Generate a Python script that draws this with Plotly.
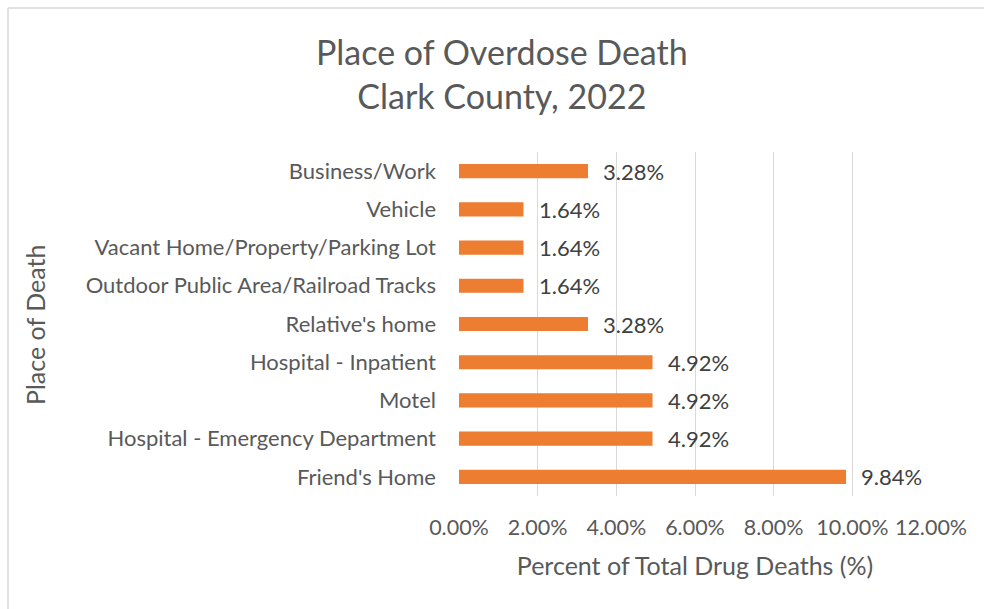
import plotly.graph_objects as go

# Places of overdose death, listed bottom-to-top as drawn
places = [
    "Friend's Home",
    "Hospital - Emergency Department",
    "Motel",
    "Hospital - Inpatient",
    "Relative's home",
    "Outdoor Public Area/Railroad Tracks",
    "Vacant Home/Property/Parking Lot",
    "Vehicle",
    "Business/Work",
]
percent = [9.84, 4.92, 4.92, 4.92, 3.28, 1.64, 1.64, 1.64, 3.28]
tick_vals = [0, 2, 4, 6, 8, 10, 12]
tick_text = ["0.00%", "2.00%", "4.00%", "6.00%", "8.00%", "10.00%", "12.00%"]

FONT = "Lato"
GREY = "#595959"

W, H = 984, 609
L, R, T, B = 459, 53, 152, 113
pw, ph = W - L - R, H - T - B


def px_x(x):
    return (x - L) / pw


def px_y(y):
    return 1 - (y - T) / ph


fig = go.Figure(
    go.Bar(
        x=percent,
        y=places,
        orientation="h",
        marker=dict(color="#ED7D31", line=dict(width=0)),
        width=0.37,
        cliponaxis=False,
    )
)

# value labels placed just past the end of each bar
value_labels = [
    dict(
        x=v,
        y=p,
        xref="x",
        yref="y",
        text=f"{v:.2f}%",
        xanchor="left",
        yanchor="middle",
        xshift=13,
        yshift=0,
        showarrow=False,
        font=dict(family=FONT, size=22, color="#404040"),
    )
    for p, v in zip(places, percent)
]

fig.update_layout(
    width=W,
    height=H,
    margin=dict(l=L, r=R, t=T, b=B),
    paper_bgcolor="white",
    plot_bgcolor="white",
    showlegend=False,
    font=dict(family=FONT, color=GREY),
    xaxis=dict(
        range=[0, 12],
        tickvals=tick_vals,
        ticktext=tick_text,
        showgrid=True,
        gridcolor="#D9D9D9",
        gridwidth=1,
        zeroline=False,
        showline=False,
        ticks="",
        tickfont=dict(family=FONT, size=21.5, color=GREY),
        ticklabelstandoff=16,
        title=dict(
            text="Percent of Total Drug Deaths (%)",
            font=dict(family=FONT, size=25, color=GREY),
            standoff=18,
        ),
    ),
    yaxis=dict(
        categoryorder="array",
        categoryarray=places,
        showgrid=False,
        showline=False,
        ticks="",
        tickfont=dict(family=FONT, size=22, color=GREY),
        ticklabelstandoff=22,
    ),
    annotations=value_labels + [
        dict(
            text="Place of Overdose Death<br>Clark County, 2022",
            x=px_x(502),
            y=px_y(73),
            xref="paper",
            yref="paper",
            xanchor="center",
            yanchor="middle",
            showarrow=False,
            align="center",
            font=dict(family=FONT, size=34, color=GREY),
        ),
        dict(
            text="Place of Death",
            x=px_x(35),
            y=px_y(325),
            xref="paper",
            yref="paper",
            xanchor="center",
            yanchor="middle",
            textangle=-90,
            showarrow=False,
            font=dict(family=FONT, size=25, color=GREY),
        ),
    ],
    shapes=[
        dict(type="line", xref="paper", yref="paper",
             x0=px_x(8), x1=px_x(W + 5), y0=px_y(8), y1=px_y(8),
             line=dict(color="#D9D9D9", width=1.5)),
        dict(type="line", xref="paper", yref="paper",
             x0=px_x(8), x1=px_x(8), y0=px_y(8), y1=px_y(H + 5),
             line=dict(color="#D9D9D9", width=1.5)),
    ],
)

fig.write_html("out.html")
